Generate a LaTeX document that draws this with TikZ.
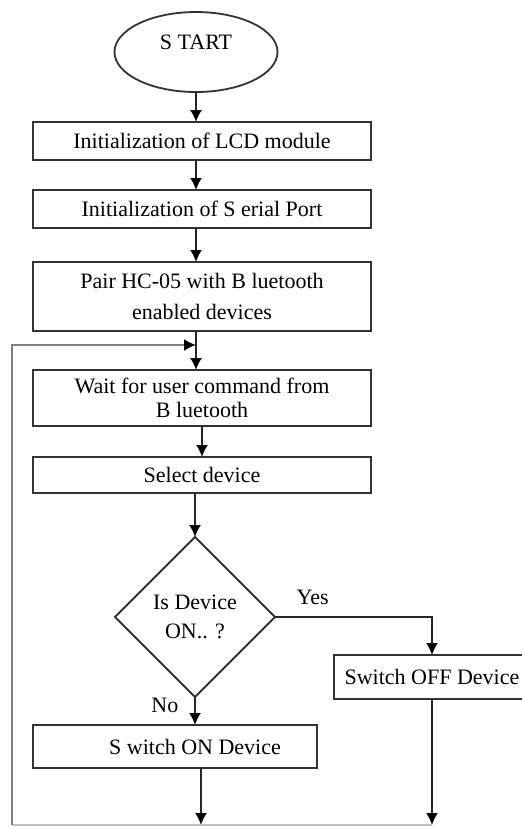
\documentclass[tikz,border=0pt]{standalone}
\usepackage{fontspec}
\setmainfont{Liberation Serif}
\usetikzlibrary{shapes.geometric,arrows.meta}

\begin{document}
\begin{tikzpicture}[x=0.5pt, y=-0.5pt, >={Latex[length=6pt,width=6pt,color=black]},
                    every node/.style={font=\fontsize{11}{13}\selectfont, outer sep=0pt},
                    block/.style={draw=black!80, line width=0.9pt, minimum width=169pt, align=center, inner sep=1pt},
                    term/.style={ellipse, draw=black!80, line width=0.9pt, minimum width=81.5pt, minimum height=40pt},
                    decide/.style={diamond, draw=black!80, line width=0.9pt, minimum width=80pt, minimum height=80pt,
                                   inner sep=0pt, align=center},
                    flow/.style={->, draw=black!85, line width=0.9pt},
                    back/.style={draw=black!50, line width=0.9pt}]

\useasboundingbox (0,0) rectangle (522,827);

\node[term, text height=8pt, text depth=10.5pt] (start) at (196,52) {S TART};
\node[block, minimum height=19pt] (lcd) at (202,141) {Initialization of LCD module};
\node[block, minimum height=19pt] (serial) at (202,209) {Initialization of S erial Port};
\node[block, minimum height=34.5pt, font=\fontsize{11}{15.5}\selectfont] (pair) at (202,296.5)
     {Pair HC-05 with B luetooth\\enabled devices};
\node[block, minimum height=28pt, font=\fontsize{11}{12}\selectfont] (wait) at (202,398)
     {Wait for user command from\\B luetooth};
\node[block, minimum height=18pt] (sel) at (202,475) {Select device};
\node[decide, font=\fontsize{11}{14.5}\selectfont] (isdev) at (195,617) {Is Device\\ON.. ?};
\node[block, minimum width=98pt, minimum height=22pt] (off) at (432,677) {Switch OFF Device};
\node[block, minimum width=142pt, minimum height=21.5pt] (on) at (175,746.5) {\hspace*{20pt}S witch ON Device};

\coordinate (bl) at (12,825);
\coordinate (tl) at (12,345);

\draw[flow] (start) -- (start |- lcd.north);
\draw[flow] (lcd.south -| start) -- (serial.north -| start);
\draw[flow] (serial.south -| start) -- (pair.north -| start);
\draw[flow] (pair.south -| start) -- (wait.north -| start);
\draw[flow] (wait) -- (sel);
\draw[flow] (sel.south -| isdev) -- (isdev.north);
\draw[flow] (isdev.east) -| node[pos=0.12, above=3pt] {Yes} (off.north);
\draw[flow] (isdev.south) -- node[pos=0.3, left=5pt] {No} (isdev.south |- on.north);

\draw[flow] ([xshift=13pt]on.south) -- ([xshift=13pt]on.south |- bl);
\draw[flow] (off.south) -- (off.south |- bl);
\draw[back, black!25] (off.south |- bl) -- (bl);
\draw[back, ->] (bl) -- (tl) -- (tl -| start);

\end{tikzpicture}
\end{document}
